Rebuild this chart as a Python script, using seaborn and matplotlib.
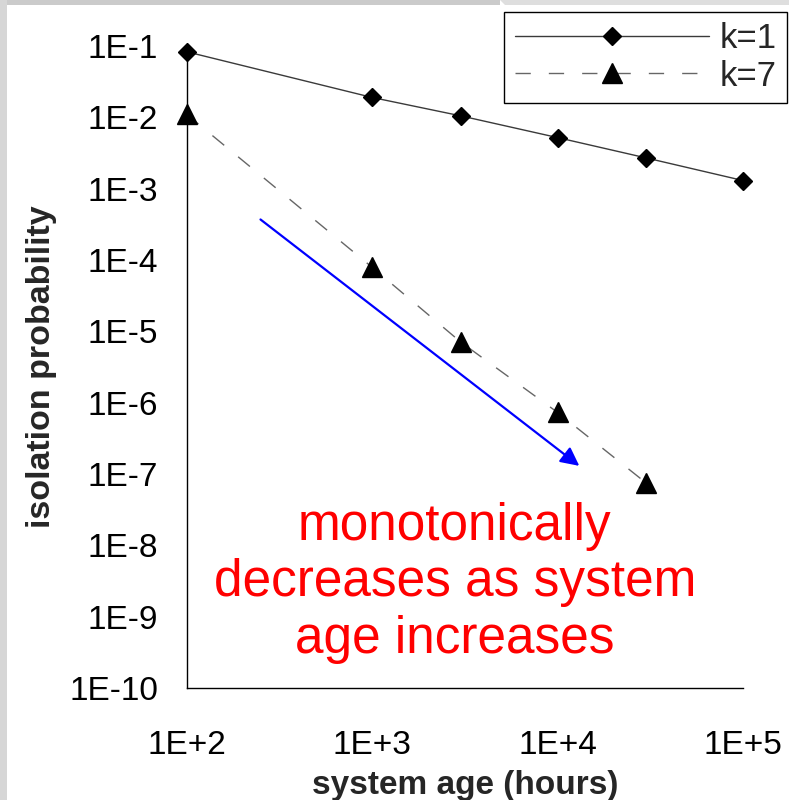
import matplotlib
matplotlib.use("Agg")
import matplotlib.pyplot as plt
from matplotlib.patches import Rectangle, Polygon
import seaborn as sns
import pandas as pd
import numpy as np

# ---- data ----
hours_k1 = [100, 1000, 3000, 10000, 30000, 100000]
prob_k1 = [8.3e-2, 1.9e-2, 1.05e-2, 5.2e-3, 2.7e-3, 1.3e-3]
hours_k7 = [100, 1000, 3000, 10000, 30000]
prob_k7 = [1.1e-2, 7.9e-5, 7.1e-6, 7.3e-7, 7.5e-8]
series_names = ["k=1", "k=7"]

x_ticks = [1e2, 1e3, 1e4, 1e5]
x_tick_labels = ["1E+2", "1E+3", "1E+4", "1E+5"]
y_ticks = [1e-10, 1e-9, 1e-8, 1e-7, 1e-6, 1e-5, 1e-4, 1e-3, 1e-2, 1e-1]
y_tick_labels = ["1E-10", "1E-9", "1E-8", "1E-7", "1E-6", "1E-5", "1E-4", "1E-3", "1E-2", "1E-1"]

arrow_start = (250, 3.7e-4)
arrow_end = (13100, 1.3e-7)
note_text = "monotonically\ndecreases as system\nage increases"
x_label = "system age (hours)"
y_label = "isolation probability"

# ---- style ----
sns.set_style("white")
plt.rcParams["font.family"] = ["Liberation Sans", "DejaVu Sans"]

fig = plt.figure(figsize=(7.89, 8.0), dpi=100)
fig.patch.set_facecolor("white")
# slide background bands
fig.patches.append(Rectangle((0, 1 - 5 / 800), 500 / 789, 5 / 800, transform=fig.transFigure,
                             facecolor="#cbcbcb", edgecolor="none", zorder=0))
fig.patches.append(Polygon([(500 / 789, 1), (789 / 789, 1), (789 / 789, 1 - 5 / 800), (505 / 789, 1 - 5 / 800)],
                           closed=True, transform=fig.transFigure, facecolor="#dedede", edgecolor="none", zorder=0))
fig.patches.append(Rectangle((0, 0), 7 / 789, 1, transform=fig.transFigure,
                             facecolor="#d6d6d6", edgecolor="none", zorder=0))

ax = fig.add_axes([186.7 / 789, 1 - 688 / 800, (743 - 186.7) / 789, (688 - 46) / 800])
ax.set_facecolor("none")

df1 = pd.DataFrame({"hours": hours_k1, "prob": prob_k1})
df7 = pd.DataFrame({"hours": hours_k7, "prob": prob_k7})

sns.lineplot(data=df1, x="hours", y="prob", ax=ax, color="#3a3a3a", lw=1.0,
             marker="D", markersize=9.5, markerfacecolor="black", markeredgecolor="black",
             markeredgewidth=1, label=series_names[0], clip_on=False, zorder=3)
sns.lineplot(data=df7, x="hours", y="prob", ax=ax, color="#666666", lw=1.0,
             linestyle=(0, (11, 13)),
             marker="^", markersize=14, markerfacecolor="black", markeredgecolor="black",
             markeredgewidth=1, label=series_names[1], clip_on=False, zorder=3)

ax.set_xscale("log")
ax.set_yscale("log")
ax.set_xlim(x_ticks[0], x_ticks[-1])
ax.set_ylim(y_ticks[0], y_ticks[-1])
ax.set_xticks(x_ticks)
ax.set_xticklabels(x_tick_labels)
ax.set_yticks(y_ticks)
ax.set_yticklabels(y_tick_labels)
ax.minorticks_off()

for s in ["top", "right"]:
    ax.spines[s].set_visible(False)
for s in ["left", "bottom"]:
    ax.spines[s].set_color("black")
    ax.spines[s].set_linewidth(1.0)

ax.tick_params(axis="both", which="major", direction="out", length=8.5, width=0.8,
               color="black", labelsize=24, labelcolor="black")
ax.tick_params(axis="y", pad=12)
ax.tick_params(axis="x", pad=22)

ax.set_xlabel(x_label, fontsize=24, fontweight="bold", labelpad=6)
ax.set_ylabel(y_label, fontsize=24.5, fontweight="bold", labelpad=9)

# arrow
ax.annotate("", xy=arrow_end, xytext=arrow_start,
            arrowprops=dict(arrowstyle="-|>", color="blue", lw=1.6, mutation_scale=28,
                            shrinkA=0, shrinkB=0))

# red note (baseline of the last line)
fig.text(455 / 789, 1 - 653 / 800, note_text, color="red", fontsize=37,
         ha="center", va="baseline", multialignment="center", linespacing=1.2)

# legend
ax.legend(loc="upper right", bbox_to_anchor=(787 / 789, 1 - 12 / 800),
          bbox_transform=fig.transFigure, fontsize=25, frameon=True, fancybox=False,
          edgecolor="black", framealpha=1, handlelength=5.6, handletextpad=0.3,
          labelspacing=0.12, borderpad=0.3, borderaxespad=0)
leg = ax.get_legend()
leg.get_frame().set_linewidth(1.0)

fig.savefig("out.png", dpi=100)
